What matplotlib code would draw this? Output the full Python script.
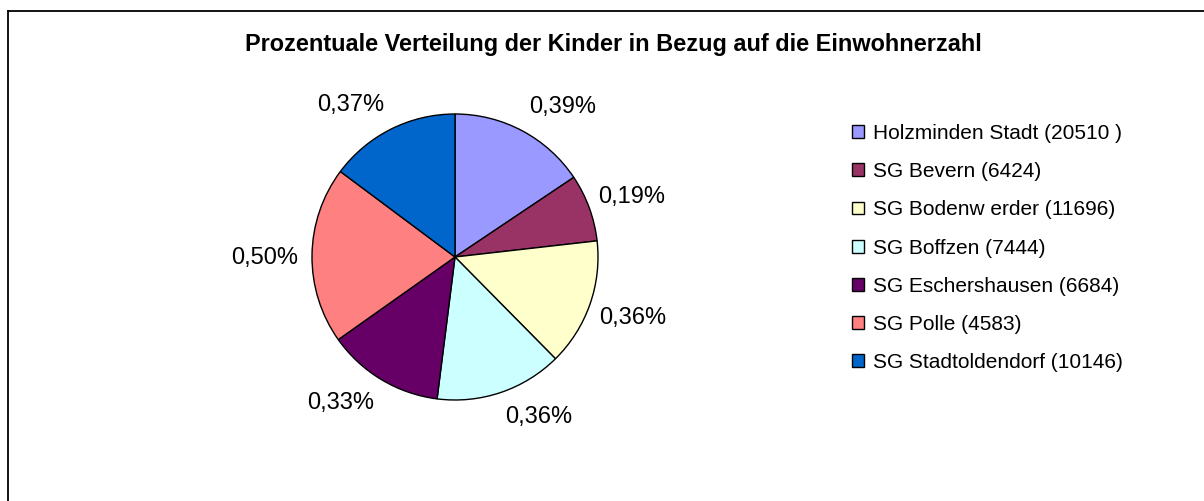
import matplotlib
matplotlib.use('Agg')
import matplotlib.pyplot as plt
from matplotlib.lines import Line2D

plt.rcParams['font.family'] = ['Liberation Sans', 'DejaVu Sans']

# Daten
gemeinden = ['Holzminden Stadt (20510 )', 'SG Bevern (6424)', 'SG Bodenw erder (11696)',
             'SG Boffzen (7444)', 'SG Eschershausen (6684)', 'SG Polle (4583)',
             'SG Stadtoldendorf (10146)']
anteile = [0.39, 0.19, 0.36, 0.36, 0.33, 0.50, 0.37]
farben = ['#9999FF', '#993366', '#FFFFCC', '#CCFFFF', '#660066', '#FF8080', '#0066CC']
beschriftung = [f"{v:.2f}%".replace('.', ',') for v in anteile]

W, H = 1204, 501
fig = plt.figure(figsize=(W / 100, H / 100), dpi=100)

# Rahmen: nur oben und links sichtbar (Rest abgeschnitten)
fig.add_artist(Line2D([8 / W, 1.0], [(H - 11) / H] * 2, transform=fig.transFigure,
                      color='black', linewidth=1.3))
fig.add_artist(Line2D([8 / W] * 2, [0.0, (H - 11) / H], transform=fig.transFigure,
                      color='black', linewidth=1.3))

fig.text(613 / W, (H - 44) / H, 'Prozentuale Verteilung der Kinder in Bezug auf die Einwohnerzahl',
         ha='center', va='center', fontsize=16.9, fontweight='bold')

# Kreisdiagramm
cx, cy, r = 455, 257, 143
ax = fig.add_axes([(cx - r) / W, (H - cy - r) / H, 2 * r / W, 2 * r / H])
wedges, texts = ax.pie(anteile, labels=beschriftung, colors=farben, startangle=90,
                       counterclock=False, labeldistance=1.1,
                       wedgeprops=dict(edgecolor='black', linewidth=1.0),
                       textprops=dict(fontsize=17))
for t in texts:
    x, y = t.get_position()
    if y > 0.5:
        t.set_va('bottom')
    elif y < -0.5:
        t.set_va('top')
    elif y > 0.2:
        t.set_va('center')
        t.set_position((x - 0.03, y + 0.04))
    elif y < -0.2:
        t.set_va('center')
        t.set_position((x - 0.03, y - 0.06))
    else:
        t.set_va('center_baseline')
ax.set_xlim(-1, 1)
ax.set_ylim(-1, 1)

leg = fig.legend(wedges, gemeinden, loc='upper left',
                 bbox_to_anchor=(852 / W, (H - 124) / H),
                 frameon=False, fontsize=15, borderpad=0, borderaxespad=0,
                 handlelength=0.58, handleheight=0.58, handletextpad=0.45,
                 labelspacing=0.92)

plt.savefig('out.png', dpi=100)
